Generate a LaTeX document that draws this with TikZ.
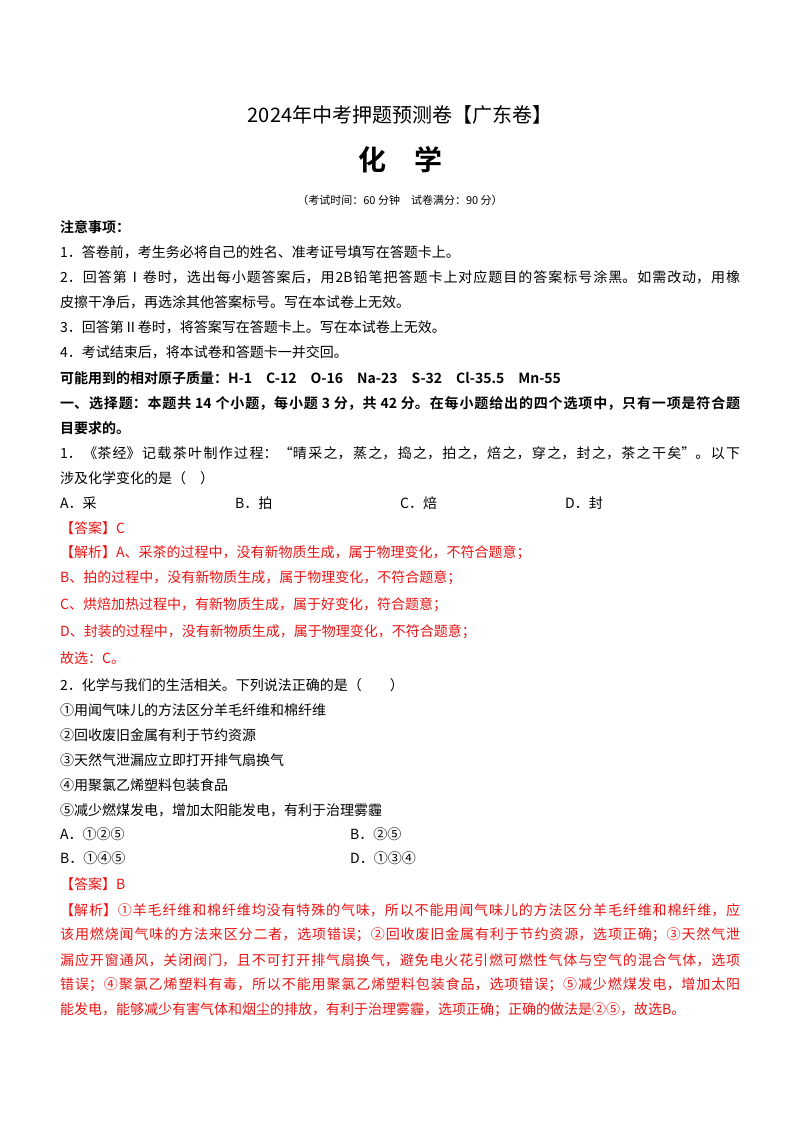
\documentclass[tikz,border=0pt]{standalone}
\usepackage{fontspec}
\setmainfont{Noto Sans CJK SC}[BoldFont={Noto Sans CJK SC Bold}]
\XeTeXlinebreaklocale "zh"
\XeTeXlinebreakskip=0pt plus 2pt
\definecolor{ansred}{RGB}{235,20,20}
\tikzset{
  txt/.style={anchor=west,inner sep=0pt,font=\fontsize{14}{16}\selectfont},
  fullline/.style={txt,text width=680pt,align=justify,
    execute at begin node={\parfillskip=0pt}},
  ans/.style={text=ansred},
}
\begin{document}
\begin{tikzpicture}[x=1pt,y=-1pt]
\useasboundingbox[fill=white] (0,0) rectangle (800,1132);

% Kopf
\node[inner sep=0pt,font=\fontsize{20}{22}\selectfont] (titel) at (400,115) {2024年中考押题预测卷【广东卷】};
\node[inner sep=0pt,font=\fontsize{28}{30}\selectfont\bfseries] (fach) at (400,160) {化\quad 学};
\node[inner sep=0pt,font=\fontsize{11}{13}\selectfont] (zeit) at (400,200) {（考试时间：60 分钟\quad 试卷满分：90 分）};

% Hinweise
\node[txt,font=\fontsize{14}{16}\selectfont\bfseries] (hinweis) at (60,227) {注意事项：};
\node[txt] (h1) at (60,252) {1．答卷前，考生务必将自己的姓名、准考证号填写在答题卡上。};
\node[fullline] (h2a) at (60,277) {2．回答第Ⅰ卷时，选出每小题答案后，用2B铅笔把答题卡上对应题目的答案标号涂黑。如需改动，用橡};
\node[txt] (h2b) at (60,302) {皮擦干净后，再选涂其他答案标号。写在本试卷上无效。};
\node[txt] (h3) at (60,327) {3．回答第Ⅱ卷时，将答案写在答题卡上。写在本试卷上无效。};
\node[txt] (h4) at (60,352) {4．考试结束后，将本试卷和答题卡一并交回。};
\node[txt,font=\fontsize{14}{16}\selectfont\bfseries] (masse) at (60,378) {可能用到的相对原子质量：H-1\quad C-12\quad O-16\quad Na-23\quad S-32\quad Cl-35.5\quad Mn-55};
\node[fullline,font=\fontsize{14}{16}\selectfont\bfseries] (teil1a) at (60,403) {一、选择题：本题共 14 个小题，每小题 3 分，共 42 分。在每小题给出的四个选项中，只有一项是符合题};
\node[txt,font=\fontsize{14}{16}\selectfont\bfseries] (teil1b) at (60,428) {目要求的。};

% Frage 1
\node[fullline] (f1a) at (60,453) {1．《茶经》记载茶叶制作过程：“晴采之，蒸之，捣之，拍之，焙之，穿之，封之，茶之干矣”。以下};
\node[txt] (f1b) at (60,478) {涉及化学变化的是（\quad ）};
\node[txt] (f1A) at (60,503) {A．采};
\node[txt] (f1B) at (235,503) {B．拍};
\node[txt] (f1C) at (400,503) {C．焙};
\node[txt] (f1D) at (565,503) {D．封};
\node[txt,ans] (a1) at (60,528) {【答案】C};
\node[txt,ans] (j1a) at (60,553) {【解析】A、采茶的过程中，没有新物质生成，属于物理变化，不符合题意；};
\node[txt,ans] (j1b) at (60,578) {B、拍的过程中，没有新物质生成，属于物理变化，不符合题意；};
\node[txt,ans] (j1c) at (60,605) {C、烘焙加热过程中，有新物质生成，属于好变化，符合题意；};
\node[txt,ans] (j1d) at (60,632) {D、封装的过程中，没有新物质生成，属于物理变化，不符合题意；};
\node[txt,ans] (j1e) at (60,658) {故选：C。};

% Frage 2
\node[txt] (f2) at (60,685) {2．化学与我们的生活相关。下列说法正确的是（\qquad ）};
\node[txt] (s1) at (60,710) {①用闻气味儿的方法区分羊毛纤维和棉纤维};
\node[txt] (s2) at (60,735) {②回收废旧金属有利于节约资源};
\node[txt] (s3) at (60,760) {③天然气泄漏应立即打开排气扇换气};
\node[txt] (s4) at (60,785) {④用聚氯乙烯塑料包装食品};
\node[txt] (s5) at (60,810) {⑤减少燃煤发电，增加太阳能发电，有利于治理雾霾};
\node[txt] (f2A) at (60,834) {A．①②⑤};
\node[txt] (f2B) at (350,834) {B．②⑤};
\node[txt] (f2C) at (60,858) {B．①④⑤};
\node[txt] (f2D) at (350,858) {D．①③④};
\node[txt,ans] (a2) at (60,884) {【答案】B};
\node[fullline,ans] (j2a) at (60,910) {【解析】①羊毛纤维和棉纤维均没有特殊的气味，所以不能用闻气味儿的方法区分羊毛纤维和棉纤维，应};
\node[fullline,ans] (j2b) at (60,935) {该用燃烧闻气味的方法来区分二者，选项错误；②回收废旧金属有利于节约资源，选项正确；③天然气泄};
\node[fullline,ans] (j2c) at (60,960) {漏应开窗通风，关闭阀门，且不可打开排气扇换气，避免电火花引燃可燃性气体与空气的混合气体，选项};
\node[fullline,ans] (j2d) at (60,985) {错误；④聚氯乙烯塑料有毒，所以不能用聚氯乙烯塑料包装食品，选项错误；⑤减少燃煤发电，增加太阳};
\node[txt,ans] (j2e) at (60,1010) {能发电，能够减少有害气体和烟尘的排放，有利于治理雾霾，选项正确；正确的做法是②⑤，故选B。};
\end{tikzpicture}
\end{document}
